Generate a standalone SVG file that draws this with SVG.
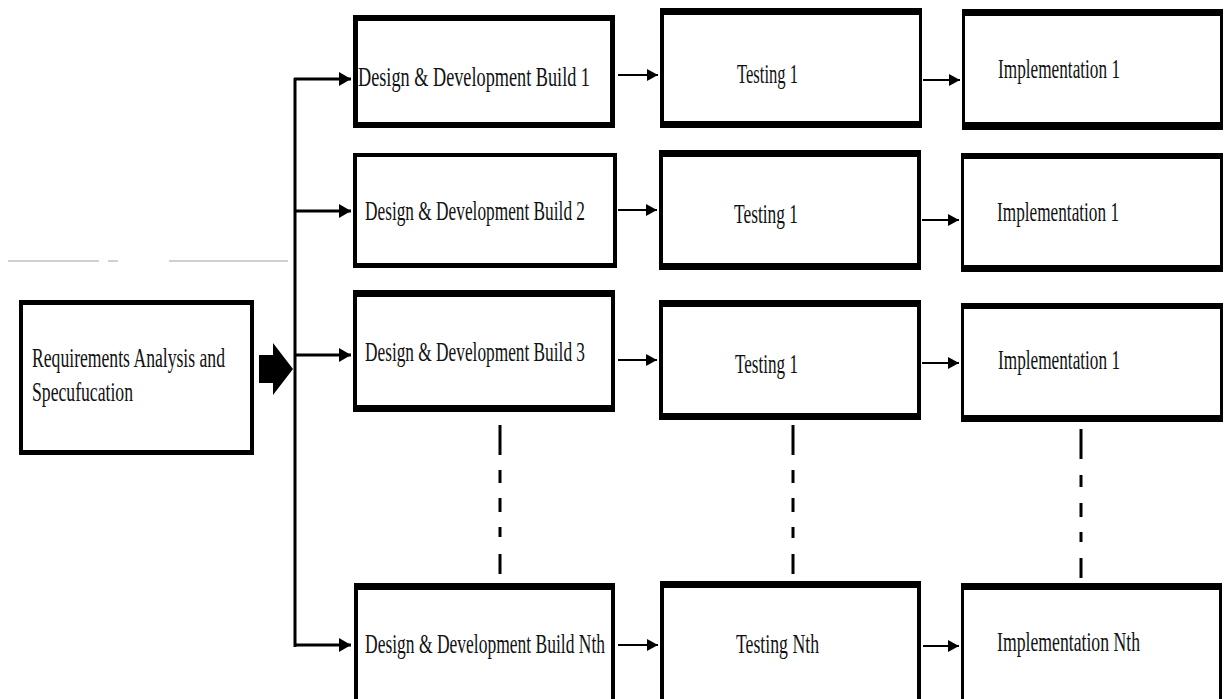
<svg xmlns="http://www.w3.org/2000/svg" width="1231" height="699" viewBox="0 0 1231 699">
  <defs>
    <style>
      .frame { fill: #000; }
      .inner { fill: #fff; }
      .lbl { font-family: "Liberation Serif", "Times New Roman", serif; font-size: 27px; fill: #111; }
      .bus { stroke: #000; stroke-width: 3; fill: none; }
      .flow { stroke: #000; stroke-width: 2; fill: none; }
      .dash { stroke: #000; stroke-width: 3; fill: none; }
      .faint { stroke: #d0d0d0; stroke-width: 2; fill: none; }
    </style>
    <marker id="headBold" viewBox="0 0 12 14" refX="12" refY="7" markerUnits="userSpaceOnUse" markerWidth="12" markerHeight="14" orient="auto">
      <path d="M0,0 L12,7 L0,14 Z" fill="#000"/>
    </marker>
    <marker id="headThin" viewBox="0 0 11 12" refX="11" refY="6" markerUnits="userSpaceOnUse" markerWidth="11" markerHeight="12" orient="auto">
      <path d="M0,0 L11,6 L0,12 Z" fill="#000"/>
    </marker>
  </defs>

  <rect width="1231" height="699" fill="#fff"/>

  <!-- faint rule lines at left -->
  <g id="rules">
    <line class="faint" x1="8" y1="261" x2="99" y2="261"/>
    <line class="faint" x1="108" y1="261" x2="118" y2="261"/>
    <line class="faint" x1="169" y1="261" x2="288" y2="261"/>
  </g>

  <!-- requirements node -->
  <g id="requirements">
    <rect class="frame" x="19" y="300" width="235" height="155"/>
    <rect class="inner" x="23" y="305" width="227" height="145"/>
    <text class="lbl" x="32" y="367" textLength="193" lengthAdjust="spacingAndGlyphs">Requirements Analysis and</text>
    <text class="lbl" x="32" y="401" textLength="101" lengthAdjust="spacingAndGlyphs">Specufucation</text>
  </g>

  <!-- row 1 -->
  <g id="design-build-1">
    <rect class="frame" x="353" y="15" width="262" height="113"/>
    <rect class="inner" x="358" y="21" width="252" height="101"/>
    <text class="lbl" x="358" y="86" textLength="232" lengthAdjust="spacingAndGlyphs">Design &amp; Development Build 1</text>
  </g>
  <g id="testing-1">
    <rect class="frame" x="660" y="8" width="262" height="120"/>
    <rect class="inner" x="664" y="15" width="255" height="106"/>
    <text class="lbl" x="737" y="83" textLength="61" lengthAdjust="spacingAndGlyphs">Testing 1</text>
  </g>
  <g id="implementation-1">
    <rect class="frame" x="962" y="9" width="261" height="121"/>
    <rect class="inner" x="965" y="16" width="255" height="106"/>
    <text class="lbl" x="998" y="78" textLength="122" lengthAdjust="spacingAndGlyphs">Implementation 1</text>
  </g>

  <!-- row 2 -->
  <g id="design-build-2">
    <rect class="frame" x="353" y="153" width="264" height="115"/>
    <rect class="inner" x="357" y="157" width="256" height="106"/>
    <text class="lbl" x="365" y="220" textLength="220" lengthAdjust="spacingAndGlyphs">Design &amp; Development Build 2</text>
  </g>
  <g id="testing-2">
    <rect class="frame" x="659" y="150" width="262" height="120"/>
    <rect class="inner" x="663" y="157" width="254" height="106"/>
    <text class="lbl" x="734" y="223" textLength="64" lengthAdjust="spacingAndGlyphs">Testing 1</text>
  </g>
  <g id="implementation-2">
    <rect class="frame" x="961" y="153" width="262" height="119"/>
    <rect class="inner" x="964" y="159" width="256" height="106"/>
    <text class="lbl" x="997" y="221" textLength="122" lengthAdjust="spacingAndGlyphs">Implementation 1</text>
  </g>

  <!-- row 3 -->
  <g id="design-build-3">
    <rect class="frame" x="353" y="290" width="262" height="122"/>
    <rect class="inner" x="357" y="297" width="254" height="108"/>
    <text class="lbl" x="365" y="361" textLength="220" lengthAdjust="spacingAndGlyphs">Design &amp; Development Build 3</text>
  </g>
  <g id="testing-3">
    <rect class="frame" x="659" y="300" width="262" height="120"/>
    <rect class="inner" x="663" y="307" width="254" height="106"/>
    <text class="lbl" x="735" y="373" textLength="63" lengthAdjust="spacingAndGlyphs">Testing 1</text>
  </g>
  <g id="implementation-3">
    <rect class="frame" x="961" y="303" width="262" height="119"/>
    <rect class="inner" x="964" y="309" width="256" height="106"/>
    <text class="lbl" x="998" y="369" textLength="122" lengthAdjust="spacingAndGlyphs">Implementation 1</text>
  </g>

  <!-- row N (runs off the bottom edge) -->
  <g id="design-build-n">
    <rect class="frame" x="354" y="583" width="261" height="130"/>
    <rect class="inner" x="358" y="590" width="253" height="130"/>
    <text class="lbl" x="365" y="653" textLength="240" lengthAdjust="spacingAndGlyphs">Design &amp; Development Build Nth</text>
  </g>
  <g id="testing-n">
    <rect class="frame" x="660" y="581" width="261" height="130"/>
    <rect class="inner" x="664" y="588" width="253" height="130"/>
    <text class="lbl" x="736" y="653" textLength="83" lengthAdjust="spacingAndGlyphs">Testing Nth</text>
  </g>
  <g id="implementation-n">
    <rect class="frame" x="961" y="583" width="261" height="130"/>
    <rect class="inner" x="964" y="590" width="255" height="130"/>
    <text class="lbl" x="997" y="651" textLength="143" lengthAdjust="spacingAndGlyphs">Implementation Nth</text>
  </g>

  <!-- connectors -->
  <g id="connectors">
    <!-- block arrow from requirements to the bus -->
    <polygon points="259,355 273,355 273,343 293,369 273,395 273,383 259,383" fill="#000"/>
    <!-- distribution bus -->
    <line class="bus" x1="295" y1="78" x2="295" y2="647"/>
    <line class="bus" x1="294" y1="79" x2="351" y2="79" marker-end="url(#headBold)"/>
    <line class="bus" x1="294" y1="211" x2="351" y2="211" marker-end="url(#headBold)"/>
    <line class="bus" x1="294" y1="355" x2="351" y2="355" marker-end="url(#headBold)"/>
    <line class="bus" x1="294" y1="645" x2="351" y2="645" marker-end="url(#headBold)"/>

    <!-- design to testing -->
    <line class="flow" x1="618" y1="75" x2="658" y2="75" marker-end="url(#headThin)"/>
    <line class="flow" x1="618" y1="210" x2="657" y2="210" marker-end="url(#headThin)"/>
    <line class="flow" x1="618" y1="360" x2="657" y2="360" marker-end="url(#headThin)"/>
    <line class="flow" x1="618" y1="645" x2="658" y2="645" marker-end="url(#headThin)"/>

    <!-- testing to implementation -->
    <line class="flow" x1="923" y1="80" x2="960" y2="80" marker-end="url(#headThin)"/>
    <line class="flow" x1="922" y1="220" x2="959" y2="220" marker-end="url(#headThin)"/>
    <line class="flow" x1="922" y1="363" x2="959" y2="363" marker-end="url(#headThin)"/>
    <line class="flow" x1="923" y1="646" x2="959" y2="646" marker-end="url(#headThin)"/>

    <!-- continuation dashes -->
    <path class="dash" d="M500,425 V455 M500,470 V483 M500,498 V512 M500,527 V537 M500,554 V574"/>
    <path class="dash" d="M793,425 V455 M793,470 V483 M793,498 V512 M793,527 V538 M793,554 V574"/>
    <path class="dash" d="M1081,429 V459 M1081,475 V487 M1081,503 V517 M1081,532 V542 M1081,558 V578"/>
  </g>
</svg>
